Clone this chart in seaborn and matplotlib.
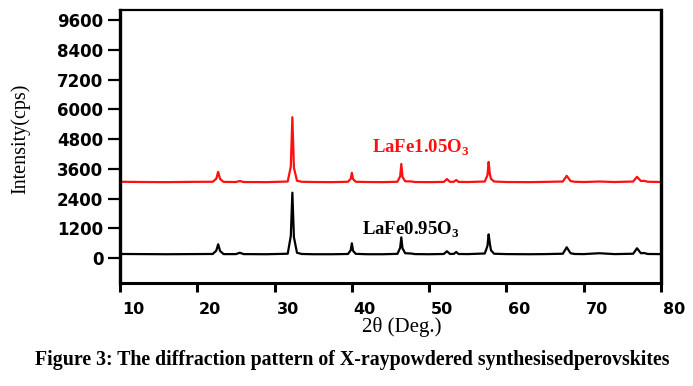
import numpy as np
import pandas as pd
import matplotlib
matplotlib.use("Agg")
import matplotlib.pyplot as plt
import matplotlib.transforms as mtransforms
import seaborn as sns

# 2θ grid shared by both patterns
two_theta = [10, 13, 16, 19, 22.0, 22.45, 22.7, 22.95, 23.4, 25.0, 25.5, 26.0, 29,
             31.7, 32.1, 32.3, 32.5, 32.9, 33.5, 35, 37.5, 39.5, 39.85, 40.0, 40.15, 40.5,
             42, 44, 45.9, 46.25, 46.4, 46.55, 46.9, 47.6, 48.2, 50, 51.9, 52.3, 52.7,
             53.2, 53.5, 53.8, 55, 57.2, 57.55, 57.7, 57.85, 58.0, 58.4, 60, 63, 65,
             67.3, 67.8, 68.3, 68.8, 70, 72, 74, 76.4, 76.9, 77.4, 77.8, 78.3, 80]

# LaFe1.05O3 (red, offset pattern)
intensity_105 = [3080, 3070, 3065, 3075, 3080, 3200, 3480, 3190, 3075, 3070, 3110, 3070, 3065,
                 3090, 3700, 5680, 3650, 3120, 3080, 3070, 3065, 3080, 3200, 3440, 3190, 3080,
                 3070, 3065, 3080, 3300, 3800, 3280, 3100, 3095, 3070, 3065, 3075, 3190, 3075,
                 3080, 3150, 3075, 3070, 3090, 3350, 3880, 3400, 3200, 3090, 3070, 3065, 3075,
                 3090, 3320, 3110, 3080, 3070, 3090, 3070, 3090, 3280, 3110, 3120, 3080, 3070]

# LaFe0.95O3 (black)
intensity_095 = [170, 165, 160, 165, 170, 300, 560, 290, 165, 165, 220, 165, 160,
                 180, 900, 2640, 850, 220, 170, 160, 160, 170, 320, 600, 300, 175,
                 160, 160, 175, 420, 840, 400, 200, 190, 165, 160, 170, 280, 170,
                 175, 250, 170, 165, 190, 500, 960, 600, 320, 180, 165, 160, 165,
                 180, 440, 200, 170, 165, 200, 165, 180, 400, 200, 210, 170, 165]

x_ticks = [10, 20, 30, 40, 50, 60, 70, 80]
y_ticks = [0, 1200, 2400, 3600, 4800, 6000, 7200, 8400, 9600]

sns.set_style("ticks")
plt.rcParams['text.color'] = 'black'
plt.rcParams['axes.labelcolor'] = 'black'
plt.rcParams['xtick.color'] = 'black'
plt.rcParams['ytick.color'] = 'black'
plt.rcParams['mathtext.fontset'] = 'custom'
plt.rcParams['mathtext.bf'] = 'Liberation Serif:bold'
plt.rcParams['mathtext.rm'] = 'Liberation Serif:bold'

df = pd.DataFrame({"two_theta": two_theta,
                   "LaFe1.05O3": intensity_105,
                   "LaFe0.95O3": intensity_095})

fig = plt.figure(figsize=(6.93, 3.86), dpi=100)
ax = fig.add_axes([0.1732, 0.2668, 0.7806, 0.7072])

sns.lineplot(data=df, x="two_theta", y="LaFe0.95O3", ax=ax, color="black", linewidth=1.6)
sns.lineplot(data=df, x="two_theta", y="LaFe1.05O3", ax=ax, color="#ff1010", linewidth=1.6)

ax.set_xlim(10, 80)
ax.set_ylim(-1000, 10000)
ax.set_xticks(x_ticks)
ax.set_yticks(y_ticks)
ax.set_xticklabels([str(v) for v in x_ticks], fontsize=11.5, fontweight='bold', family='DejaVu Sans')
ax.set_yticklabels([str(v) for v in y_ticks], fontsize=12, fontweight='bold', family='DejaVu Sans')
ax.tick_params(axis='x', direction='out', length=6.5, width=2.2, pad=7, colors='black')
ax.tick_params(axis='y', direction='out', length=8.5, width=1.6, pad=3.5, colors='black')

# the x tick labels sit a little to the right of their ticks in the original
shift = mtransforms.ScaledTranslation(0.13, 0, fig.dpi_scale_trans)
for lab in ax.get_xticklabels():
    lab.set_transform(lab.get_transform() + shift)

for side, lw in [("left", 2.4), ("bottom", 2.2), ("right", 2.4), ("top", 1.6)]:
    ax.spines[side].set_visible(True)
    ax.spines[side].set_linewidth(lw)
    ax.spines[side].set_color("black")

ax.set_xlabel("2θ (Deg.)", fontsize=15, family='Liberation Serif', color='black')
ax.xaxis.set_label_coords(0.52, -0.125)
ax.set_ylabel("Intensity(cps)", fontsize=14.5, family='Liberation Serif', color='black')
ax.yaxis.set_label_coords(-0.165, 0.53)

ax.text(42.6, 4240, r"LaFe1.05O$_\mathbf{3}$", color="#ff1010", fontsize=13.5,
        family='Liberation Serif', fontweight='bold', ha='left', va='baseline')
ax.text(41.3, 960, r"LaFe0.95O$_\mathbf{3}$", color="black", fontsize=13.5,
        family='Liberation Serif', fontweight='bold', ha='left', va='baseline')

fig.text(0.508, 0.067, "Figure 3: The diffraction pattern of X-raypowdered synthesisedperovskites",
         ha='center', va='center', fontsize=14.3, fontweight='bold', family='Liberation Serif',
         color='black')

fig.savefig("out.png", dpi=100)
